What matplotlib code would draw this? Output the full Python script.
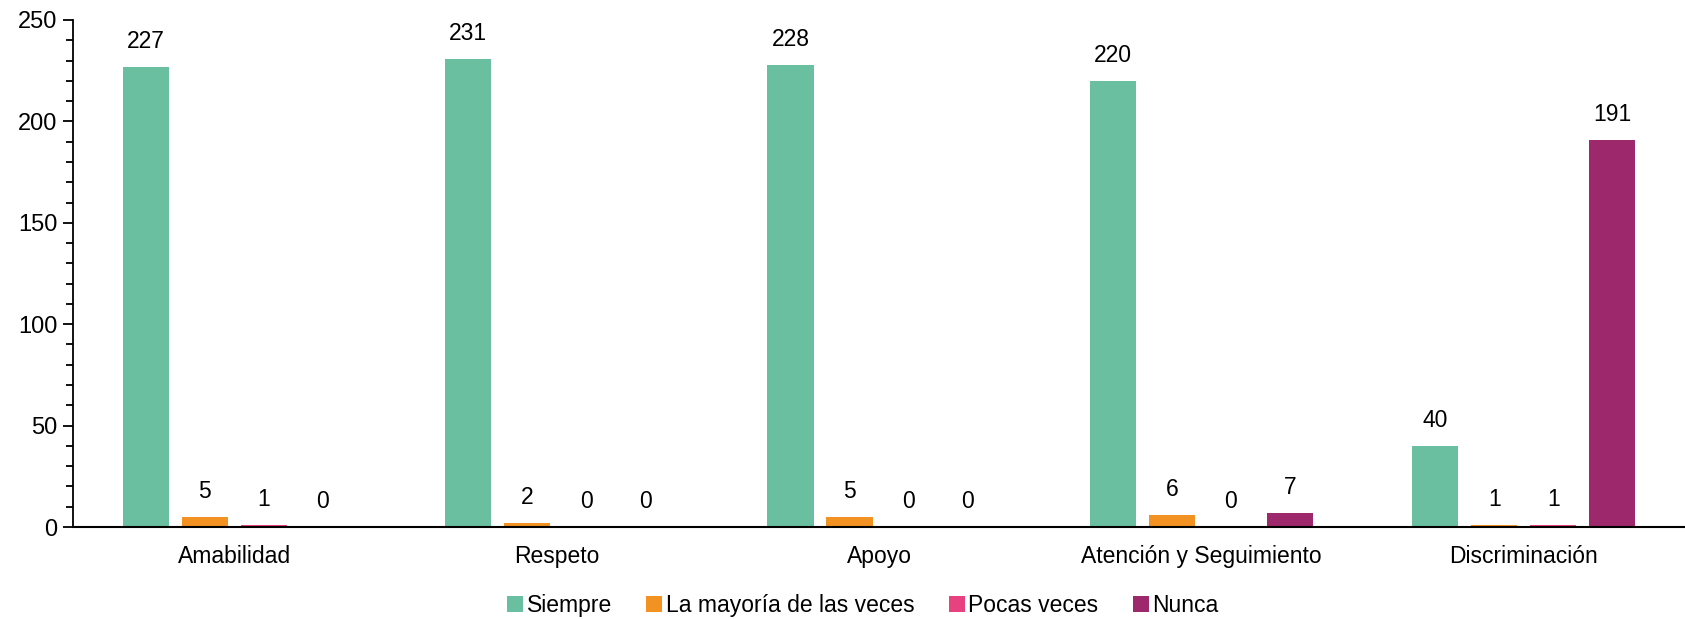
import numpy as np
import matplotlib
matplotlib.use("Agg")
import matplotlib.pyplot as plt
from matplotlib.ticker import MultipleLocator

plt.rcParams['font.family'] = ['Liberation Sans', 'DejaVu Sans']

categorias = ["Amabilidad", "Respeto", "Apoyo", "Atención y Seguimiento", "Discriminación"]
series = ["Siempre", "La mayoría de las veces", "Pocas veces", "Nunca"]
siempre = [227, 231, 228, 220, 40]
mayoria = [5, 2, 5, 6, 1]
pocas = [1, 0, 0, 0, 1]
nunca = [0, 0, 0, 7, 191]
colores = ["#69BF9F", "#F29222", "#E8417F", "#9E286C"]

valores = [siempre, mayoria, pocas, nunca]

fig = plt.figure(figsize=(16.85, 6.19), dpi=100)
ax = fig.add_axes([0.0433, 0.1486, 0.9567, 0.8191])

x = np.arange(len(categorias))
ancho = 0.143
paso = 0.183
for i, (nombre, vals, col) in enumerate(zip(series, valores, colores)):
    pos = x + (i - 1.5) * paso
    barras = ax.bar(pos, vals, width=ancho, color=col, label=nombre, zorder=2)
    for b, v in zip(barras, vals):
        ax.annotate(str(v), (b.get_x() + b.get_width() / 2, v),
                    xytext=(0, 10), textcoords="offset points",
                    ha="center", va="bottom", fontsize=16.5)

ax.set_xlim(-0.5, len(categorias) - 0.5)
ax.set_ylim(0, 250)
ax.yaxis.set_major_locator(MultipleLocator(50))
ax.yaxis.set_minor_locator(MultipleLocator(10))
ax.tick_params(axis="y", which="major", length=7, width=1.3, labelsize=17, pad=4)
ax.tick_params(axis="y", which="minor", length=5, width=1.3)
ax.set_xticks(x)
ax.set_xticklabels(categorias)
ax.tick_params(axis="x", length=0, labelsize=16.5, pad=13)

for s in ["top", "right"]:
    ax.spines[s].set_visible(False)
ax.spines["left"].set_linewidth(1.3)
ax.spines["bottom"].set_linewidth(1.5)

fig.legend(loc="center", bbox_to_anchor=(0.512, 0.022), ncol=4, frameon=False,
           fontsize=16.5, handlelength=0.7, handleheight=0.7,
           handletextpad=0.15, columnspacing=1.5)

fig.savefig("out.png", dpi=100)
